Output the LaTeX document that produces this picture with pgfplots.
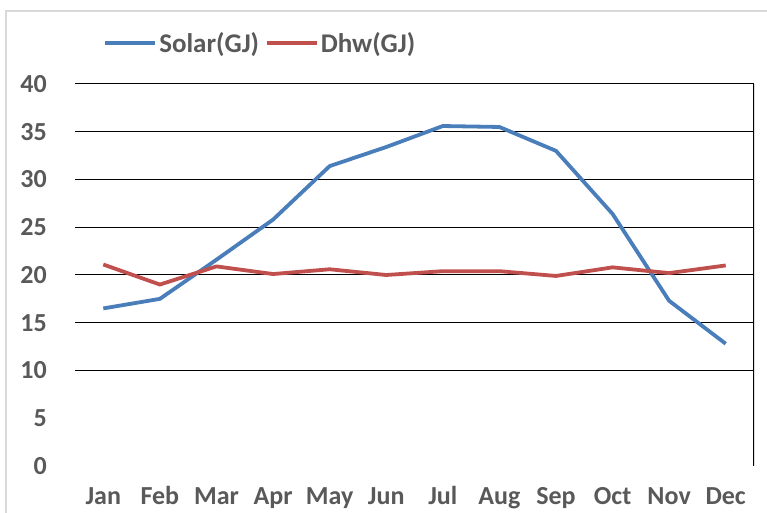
\documentclass[border=0pt]{standalone}
\usepackage{pgfplots}
\pgfplotsset{compat=1.18}
\usepackage{fontspec}
\setmainfont{Carlito}

\definecolor{solarblue}{RGB}{74,126,187}
\definecolor{dhwred}{RGB}{192,80,77}
\definecolor{textgray}{RGB}{89,89,89}
\definecolor{framegray}{RGB}{217,217,217}

\begin{document}
\begin{tikzpicture}[x=1pt,y=1pt]
\path[use as bounding box] (0,0) rectangle (767,513);
\draw[framegray, line width=1.5pt] (6,0) |- (767,502);

\begin{axis}[
at={(75pt,47pt)},
anchor=south west,
scale only axis,
width=679pt,
height=382pt,
xmin=0.5, xmax=12.5,
ymin=0, ymax=40,
xtick={1,...,12},
xticklabels={Jan,Feb,Mar,Apr,May,Jun,Jul,Aug,Sep,Oct,Nov,Dec},
ytick={0,5,...,40},
extra y ticks={10,15,...,40},
extra y tick labels={},
extra y tick style={grid=major},
grid style={black, line width=1pt},
major tick length=0pt,
axis line style={draw=none},
tick label style={font=\fontsize{26}{26}\selectfont\bfseries, text=textgray, inner sep=0pt},
/pgf/number format/assume math mode=true,
y tick label style={anchor=east, xshift=-28pt},
x tick label style={anchor=base, yshift=-38pt},
legend columns=2,
legend style={draw=none, fill=none, at={(rel axis cs:0.273,1.107)}, anchor=center,
  font=\fontsize{27}{27}\selectfont\bfseries, text=textgray,
  /tikz/every even column/.append style={column sep=4pt},
  /tikz/every odd column/.append style={column sep=0pt},
  inner sep=0pt, nodes={inner sep=2pt}},
legend image code/.code={\draw[#1] (0pt,0pt) -- (50pt,0pt);},
]
\addplot [solarblue, line width=3.8pt, line join=round] coordinates {
(1,16.5) (2,17.5) (3,21.6) (4,25.8) (5,31.4) (6,33.4)
(7,35.6) (8,35.5) (9,33.0) (10,26.4) (11,17.3) (12,12.8)
};
\addlegendentry{Solar(GJ)}
\addplot [dhwred, line width=3.8pt, line join=round] coordinates {
(1,21.1) (2,19.0) (3,20.9) (4,20.1) (5,20.6) (6,20.0)
(7,20.4) (8,20.4) (9,19.9) (10,20.8) (11,20.2) (12,21.0)
};
\addlegendentry{Dhw(GJ)}
\draw[black, line width=2pt] (rel axis cs:1,0) -- (rel axis cs:1,1);
\end{axis}
\end{tikzpicture}
\end{document}
